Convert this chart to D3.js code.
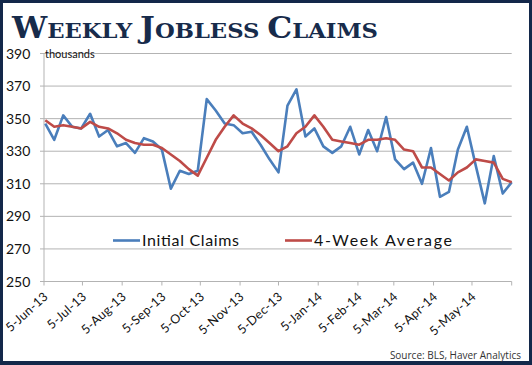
<!DOCTYPE html>
<html>
<head>
<meta charset="utf-8">
<script src="https://cdn.jsdelivr.net/npm/d3@7"></script>
<style>
    body { margin: 0; background: #ffffff; }
    svg { display: block; }
</style>
</head>
<body>
<svg class="claimsChart" width="532" height="365"></svg>
<script>
// Weekly data, release Thursdays from 6-Jun-13 to 5-Jun-14 (thousands).
let weekDates = d3.timeThursday.range(new Date(2013, 5, 6), new Date(2014, 5, 6));

let initialClaims = [347, 337, 352, 345, 344, 353, 339, 343, 333, 335, 329, 338, 336, 331,
    307, 318, 316, 318, 362, 355, 347, 346, 341, 342, 334, 325, 317, 358, 368, 339, 344,
    333, 329, 333, 345, 328, 343, 330, 351, 325, 319, 323, 310, 332, 302, 305, 331, 345,
    321, 298, 327, 304, 311];

let fourWeekAverage = [349, 345, 346, 345, 344, 348, 345, 344, 341, 337, 335, 334, 334, 332,
    328, 324, 319, 315, 326, 337, 345, 352, 347, 344, 340, 335, 330, 333, 341, 345, 352,
    345, 337, 336, 335, 334, 337, 337, 338, 337, 331, 330, 320, 320, 316, 312, 317, 320,
    325, 324, 323, 313, 311];

let yTicks = [250, 270, 290, 310, 330, 350, 370, 390];
// Month ticks on the 5th: 5-Jun-13 ... 5-May-14 (labelled), plus 5-Jun-14 at the end.
let xTickDates = d3.timeMonth.range(new Date(2013, 5, 1), new Date(2014, 5, 1))
    .map(d => new Date(d.getFullYear(), d.getMonth(), 5));
let xEndDate = new Date(2014, 5, 5);
let seriesNames = ["Initial Claims", "4-Week Average"];
let seriesColors = ["#4a7ebb", "#be4b48"];

function drawClaimsChart(svgClass) {
    let svg = d3.select(svgClass);
    let width = +svg.attr("width");
    let height = +svg.attr("height");

    let plotAttr = {
        left: 44,
        right: 511.7,
        top: 53.5,
        bottom: 281.5
    };

    // Frame.
    svg.append("rect")
        .attr("width", width)
        .attr("height", height)
        .attr("fill", "#13284a");
    svg.append("rect")
        .attr("x", 3)
        .attr("y", 3)
        .attr("width", width - 6)
        .attr("height", height - 7)
        .attr("fill", "#ffffff");

    // Title in small caps.
    let title = svg.append("text")
        .attr("x", 12)
        .attr("y", 37.5)
        .attr("fill", "#172b4b")
        .attr("textLength", 366)
        .attr("lengthAdjust", "spacingAndGlyphs")
        .style("font-family", "'DejaVu Serif', serif")
        .style("font-weight", "bold");
    [["W", "EEKLY "], ["J", "OBLESS "], ["C", "LAIMS"]].forEach(w => {
        title.append("tspan").style("font-size", "29px").text(w[0]);
        title.append("tspan").style("font-size", "21px").text(w[1]);
    });

    // Scales.
    let xScale = d3.scaleTime()
        .domain([xTickDates[0], xEndDate])
        .range([plotAttr.left, plotAttr.right]);
    let yScale = d3.scaleLinear()
        .domain([250, 390])
        .range([plotAttr.bottom, plotAttr.top]);

    // Gridlines with left ticks.
    svg.append("g")
        .selectAll("line")
        .data(yTicks)
        .join("line")
        .attr("x1", plotAttr.left - 4)
        .attr("x2", plotAttr.right)
        .attr("y1", d => yScale(d))
        .attr("y2", d => yScale(d))
        .attr("stroke", "#b3b3b3")
        .attr("stroke-width", 1);

    // Y axis line.
    svg.append("line")
        .attr("x1", plotAttr.left)
        .attr("x2", plotAttr.left)
        .attr("y1", plotAttr.top)
        .attr("y2", plotAttr.bottom)
        .attr("stroke", "#b3b3b3");

    // Y labels.
    svg.append("g")
        .selectAll("text")
        .data(yTicks)
        .join("text")
        .attr("x", 6)
        .attr("y", d => yScale(d))
        .attr("dy", "0.36em")
        .attr("fill", "#111111")
        .style("font-family", "Lato, sans-serif")
        .style("font-size", "14px")
        .text(d => d);

    svg.append("text")
        .attr("x", 45)
        .attr("y", yScale(390) + 4)
        .attr("fill", "#111111")
        .style("font-family", "Lato, sans-serif")
        .style("font-size", "11px")
        .text("thousands");

    // X ticks and labels.
    let xAxis = svg.append("g");
    xAxis.selectAll("line")
        .data(xTickDates.concat([xEndDate]))
        .join("line")
        .attr("x1", d => xScale(d))
        .attr("x2", d => xScale(d))
        .attr("y1", plotAttr.bottom)
        .attr("y2", plotAttr.bottom + 4)
        .attr("stroke", "#b3b3b3");
    let fmt = d3.timeFormat("%-d-%b-%y");
    xAxis.selectAll("text")
        .data(xTickDates)
        .join("text")
        .attr("transform", d => "translate(" + (xScale(d) + 2) + "," + (plotAttr.bottom + 13) + ") rotate(-42)")
        .attr("text-anchor", "end")
        .attr("dy", "0.35em")
        .attr("fill", "#111111")
        .style("font-family", "Lato, sans-serif")
        .style("font-size", "12.5px")
        .style("letter-spacing", "0.3px")
        .text(d => fmt(d));

    // Draw lines.
    let lineGen = d3.line()
        .x((d, i) => xScale(weekDates[i]))
        .y(d => yScale(d));
    [initialClaims, fourWeekAverage].forEach((series, k) => {
        svg.append("path")
            .attr("d", lineGen(series))
            .attr("fill", "none")
            .attr("stroke", seriesColors[k])
            .attr("stroke-width", 2.6)
            .style("stroke-linejoin", "round");
    });

    // Legend.
    let legendX = [113, 285];
    let legendTextWidth = [97, 138];
    seriesNames.forEach((name, k) => {
        svg.append("line")
            .attr("x1", legendX[k])
            .attr("x2", legendX[k] + 27)
            .attr("y1", 240.5)
            .attr("y2", 240.5)
            .attr("stroke", seriesColors[k])
            .attr("stroke-width", 2.6);
        svg.append("text")
            .attr("x", legendX[k] + 29)
            .attr("y", 240.5)
            .attr("dy", "0.36em")
            .attr("fill", "#111111")
            .attr("textLength", legendTextWidth[k])
            .attr("lengthAdjust", "spacing")
            .style("font-family", "Lato, sans-serif")
            .style("font-size", "16px")
            .text(name);
    });

    // Source note.
    svg.append("text")
        .attr("x", 521)
        .attr("y", 355)
        .attr("dy", "0.35em")
        .attr("text-anchor", "end")
        .attr("fill", "#333333")
        .style("font-family", "'Open Sans', sans-serif")
        .style("font-size", "10px")
        .text("Source:  BLS, Haver Analytics");
}

drawClaimsChart(".claimsChart");
</script>
</body>
</html>
